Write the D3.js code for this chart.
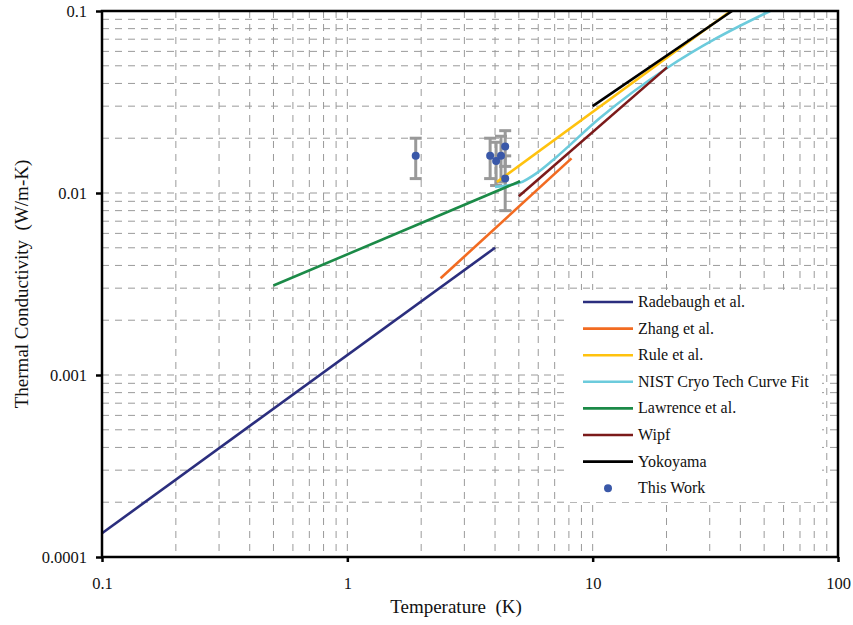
<!DOCTYPE html>
<html>
<head>
<meta charset="utf-8">
<script src="https://cdn.jsdelivr.net/npm/d3@7"></script>
<style>
  body { margin: 0; background: #fff; }
  svg { display: block; }
  text { font-family: "Liberation Serif", "Times New Roman", serif; }
</style>
</head>
<body>
<svg id="chart" width="853" height="625"></svg>
<script>
// series data: [temperature K, conductivity W/m-K]
const radebaugh = [[0.1, 0.000135], [4, 0.005]];
const zhang = [[2.4, 0.0034], [8.2, 0.0155]];
const rule = [[4.07, 0.0115], [36.5, 0.1]];
const nist = [[4.0, 0.0108], [5.06, 0.0114], [5.93, 0.0129], [6.9, 0.0152], [10.7, 0.0258], [20.1, 0.0486], [32.1, 0.0711], [52.9, 0.1]];
const lawrence = [[0.5, 0.0031], [5.06, 0.0116]];
const wipf = [[5.0, 0.0096], [20.1, 0.049]];
const yokoyama = [[10, 0.030], [37, 0.1]];

// this work: T, k, error low, error high
const thisWork = [
    [1.9, 0.016, 0.012, 0.020],
    [3.82, 0.016, 0.012, 0.020],
    [4.04, 0.015, 0.011, 0.019],
    [4.23, 0.016, 0.0115, 0.0205],
    [4.4, 0.018, 0.014, 0.022],
    [4.4, 0.012, 0.008, 0.016]
];

const seriesNames = ["Radebaugh et al.", "Zhang et al.", "Rule et al.", "NIST Cryo Tech Curve Fit",
    "Lawrence et al.", "Wipf", "Yokoyama", "This Work"];
const seriesData = [radebaugh, zhang, rule, nist, lawrence, wipf, yokoyama];
const seriesColors = ["#2b2e7e", "#f26b21", "#ffc20e", "#6ccbdc", "#1b8a47", "#7b1a1a", "#000000"];
const dotColor = "#3a58a8";

const xTickLabels = ["0.1", "1", "10", "100"];
const yTickLabels = ["0.0001", "0.001", "0.01", "0.1"];

const plotLeft = 102, plotRight = 838, plotTop = 11, plotBottom = 557;
const serif = "'Liberation Serif', 'Times New Roman', serif";

const svg = d3.select("#chart");

const x = d3.scaleLog().domain([0.1, 100]).range([plotLeft, plotRight]);
const y = d3.scaleLog().domain([0.0001, 0.1]).range([plotBottom, plotTop]);

// minor + major gridlines
const xGrid = [];
const yGrid = [];
[0.1, 1, 10].forEach(d => { for (let m = 1; m < 10; m++) xGrid.push(d * m); });
[0.0001, 0.001, 0.01].forEach(d => { for (let m = 1; m < 10; m++) yGrid.push(d * m); });

const grid = svg.append("g")
    .attr("stroke", "#9a9a9a")
    .attr("stroke-width", 1)
    .attr("stroke-dasharray", "7,6");

grid.selectAll(".vg")
    .data(xGrid.slice(1))
    .join("line")
    .attr("x1", d => x(d)).attr("x2", d => x(d))
    .attr("y1", plotTop).attr("y2", plotBottom);

grid.selectAll(".hg")
    .data(yGrid.slice(1))
    .join("line")
    .attr("x1", plotLeft).attr("x2", plotRight)
    .attr("y1", d => y(d)).attr("y2", d => y(d));

// white legend backdrop
svg.append("rect")
    .attr("x", 568).attr("y", 290)
    .attr("width", 254).attr("height", 212)
    .attr("fill", "#fff");

// error bars
const eb = svg.append("g").attr("stroke", "#999").attr("stroke-width", 3);
thisWork.forEach(d => {
    const cx = x(d[0]);
    eb.append("line").attr("x1", cx).attr("x2", cx).attr("y1", y(d[2])).attr("y2", y(d[3]));
    eb.append("line").attr("x1", cx - 6).attr("x2", cx + 6).attr("y1", y(d[2])).attr("y2", y(d[2]));
    eb.append("line").attr("x1", cx - 6).attr("x2", cx + 6).attr("y1", y(d[3])).attr("y2", y(d[3]));
});

// curves
const line = d3.line()
    .x(d => x(d[0]))
    .y(d => y(d[1]))
    .curve(d3.curveMonotoneX);

seriesData.forEach((s, i) => {
    svg.append("path")
        .attr("d", line(s))
        .attr("fill", "none")
        .attr("stroke", seriesColors[i])
        .attr("stroke-width", 2.6);
});

// this work dots
svg.selectAll(".dot")
    .data(thisWork)
    .join("circle")
    .attr("cx", d => x(d[0]))
    .attr("cy", d => y(d[1]))
    .attr("r", 4)
    .attr("fill", dotColor);

// frame
svg.append("rect")
    .attr("x", plotLeft).attr("y", plotTop)
    .attr("width", plotRight - plotLeft).attr("height", plotBottom - plotTop)
    .attr("fill", "none")
    .attr("stroke", "#000")
    .attr("stroke-width", 2.5);

// axes
const xAxis = d3.axisBottom(x)
    .tickValues([0.1, 1, 10, 100])
    .tickFormat((d, i) => xTickLabels[i])
    .tickSize(5)
    .tickPadding(15);
const yAxis = d3.axisLeft(y)
    .tickValues([0.0001, 0.001, 0.01, 0.1])
    .tickFormat((d, i) => yTickLabels[i])
    .tickSize(6)
    .tickPadding(9);

const gx = svg.append("g").attr("transform", `translate(0,${plotBottom})`).call(xAxis);
const gy = svg.append("g").attr("transform", `translate(${plotLeft},0)`).call(yAxis);
[gx, gy].forEach(g => {
    g.attr("font-family", serif).attr("font-size", 16.5);
    g.select(".domain").remove();
    g.selectAll(".tick line").attr("stroke", "#000").attr("stroke-width", 2.5);
    g.selectAll(".tick text").attr("fill", "#111");
});

// axis titles
svg.append("text")
    .attr("x", 456).attr("y", 613)
    .attr("text-anchor", "middle")
    .attr("fill", "#111")
    .attr("font-family", serif)
    .attr("font-size", 19)
    .attr("xml:space", "preserve")
    .text("Temperature  (K)");

svg.append("text")
    .attr("transform", "translate(28,284) rotate(-90)")
    .attr("text-anchor", "middle")
    .attr("fill", "#111")
    .attr("font-family", serif)
    .attr("font-size", 19)
    .attr("xml:space", "preserve")
    .text("Thermal Conductivity  (W/m-K)");

// legend
const legend = svg.append("g").attr("font-family", serif);
seriesNames.forEach((name, i) => {
    const ly = 302 + i * 26.6;
    if (i < seriesColors.length) {
        legend.append("line")
            .attr("x1", 583).attr("x2", 633)
            .attr("y1", ly).attr("y2", ly)
            .attr("stroke", seriesColors[i])
            .attr("stroke-width", 2.6);
    } else {
        legend.append("circle")
            .attr("cx", 608).attr("cy", ly).attr("r", 4)
            .attr("fill", dotColor);
    }
    legend.append("text")
        .attr("x", 638).attr("y", ly + 5)
        .attr("fill", "#111")
        .attr("font-size", 16)
        .text(name);
});
</script>
</body>
</html>
